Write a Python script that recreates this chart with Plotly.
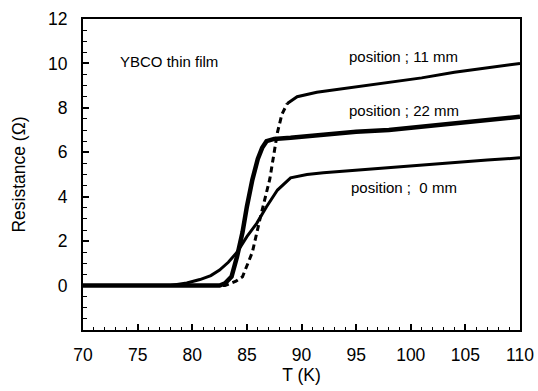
import plotly.graph_objects as go

# --- data ---
T_0mm = [70, 78, 79.5, 80.7, 81.7, 82.5, 83.3, 84.1, 85.0, 85.9, 86.8, 87.8, 89.0, 90.5, 92, 95, 98, 101, 104, 107, 110]
R_0mm = [0, 0, 0.12, 0.27, 0.45, 0.7, 1.05, 1.5, 2.2, 2.8, 3.55, 4.3, 4.85, 5.0, 5.08, 5.2, 5.3, 5.42, 5.53, 5.65, 5.75]

T_22mm = [70, 82.5, 83.0, 83.6, 84.1, 84.6, 85.0, 85.5, 86.0, 86.4, 86.8, 87.5, 89, 92, 95, 98, 101, 104, 107, 110]
R_22mm = [0, 0, 0.1, 0.4, 1.3, 2.4, 3.55, 4.76, 5.7, 6.2, 6.5, 6.6, 6.65, 6.8, 6.92, 7.0, 7.15, 7.35, 7.48, 7.6]

T_11mm = [70, 83.0, 83.5, 84.0, 84.6, 85.5, 86.2, 87.1, 87.8, 88.2, 88.7, 89.6, 91.4, 95, 98, 101, 104, 107, 110]
R_11mm = [0, 0, 0.1, 0.2, 0.4, 1.5, 3.0, 4.8, 6.9, 7.7, 8.2, 8.5, 8.7, 8.95, 9.15, 9.35, 9.6, 9.8, 10.0]
T_11mm_knee = 88.7  # transition drawn dashed below this temperature

x_ticks = [70, 75, 80, 85, 90, 95, 100, 105, 110]
y_ticks = [0, 2, 4, 6, 8, 10, 12]

labels = ["YBCO thin film", "position ; 11 mm", "position ; 22 mm", "position ;  0 mm"]
label_T = [77.9, 99.3, 99.4, 99.4]
label_R = [10.1, 10.3, 7.87, 4.4]

FONT = "Liberation Sans, Arial, sans-serif"

fig = go.Figure()

# 11 mm: dashed transition, solid normal state
dash_T = [t for t in T_11mm if t <= T_11mm_knee]
dash_R = [r for t, r in zip(T_11mm, R_11mm) if t <= T_11mm_knee]
solid_T = [t for t in T_11mm if t >= T_11mm_knee]
solid_R = [r for t, r in zip(T_11mm, R_11mm) if t >= T_11mm_knee]
fig.add_trace(go.Scatter(x=dash_T, y=dash_R, mode="lines",
                         line=dict(color="black", width=3, dash="6px,4px"), showlegend=False))
fig.add_trace(go.Scatter(x=solid_T, y=solid_R, mode="lines",
                         line=dict(color="black", width=3), showlegend=False))
fig.add_trace(go.Scatter(x=T_0mm, y=R_0mm, mode="lines",
                         line=dict(color="black", width=3), showlegend=False))
fig.add_trace(go.Scatter(x=T_22mm, y=R_22mm, mode="lines",
                         line=dict(color="black", width=4.5), showlegend=False))

for txt, tx, ty in zip(labels, label_T, label_R):
    fig.add_annotation(x=tx, y=ty, text=txt, showarrow=False, xanchor="center",
                       font=dict(family=FONT, size=15, color="black"))

fig.update_layout(
    width=538, height=391,
    margin=dict(l=83, r=18, t=19, b=61),
    paper_bgcolor="white", plot_bgcolor="white",
    font=dict(family=FONT, size=17, color="black"),
    showlegend=False,
)
fig.update_xaxes(
    range=[70, 110], tickvals=x_ticks, ticktext=[str(v) for v in x_ticks],
    ticks="inside", ticklen=6, tickwidth=1.5, tickcolor="black",
    minor=dict(dtick=1, tick0=70, ticks="inside", ticklen=3.5, tickwidth=1.2, tickcolor="black"),
    showline=True, linecolor="black", linewidth=2, mirror=True,
    showgrid=False, zeroline=False, automargin=False,
    ticklabelstandoff=8,
    title=dict(text="T (K)", font=dict(family=FONT, size=17.5), standoff=2),
    tickfont=dict(family=FONT, size=17.5),
)
fig.update_yaxes(
    range=[-2, 12], tickvals=y_ticks, ticktext=[str(v) for v in y_ticks],
    ticks="inside", ticklen=6, tickwidth=1.5, tickcolor="black",
    minor=dict(dtick=0.5, tick0=0, ticks="inside", ticklen=3.5, tickwidth=1.2, tickcolor="black"),
    showline=True, linecolor="black", linewidth=2, mirror=True,
    showgrid=False, zeroline=False, automargin=False,
    ticklabelstandoff=10,
    title=dict(text="Resistance (Ω)", font=dict(family=FONT, size=17.5), standoff=18),
    tickfont=dict(family=FONT, size=17.5),
)

fig.write_html("out.html", config={"displayModeBar": False})

# remove the browser's default 8px body margin so the figure fills the window
with open("out.html", "r", encoding="utf-8") as f:
    html = f.read()
html = html.replace("<body>", '<body style="margin:0;padding:0;overflow:hidden">', 1)
with open("out.html", "w", encoding="utf-8") as f:
    f.write(html)
